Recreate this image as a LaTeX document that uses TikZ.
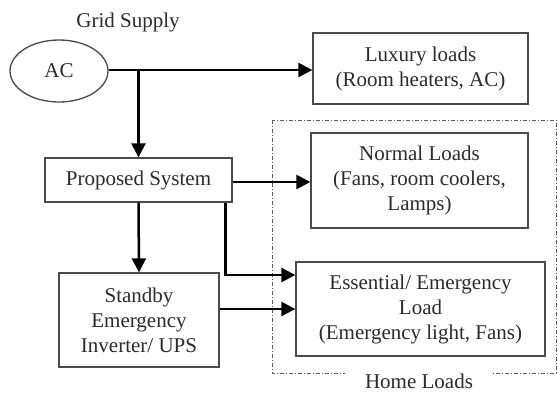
\documentclass[tikz,border=0pt]{standalone}
\usepackage{fontspec}
\setmainfont{Liberation Serif}
\usepackage{tikz}
\usetikzlibrary{arrows.meta,positioning,calc,shapes.geometric}
\usepackage{xcolor}
\definecolor{frame}  {HTML}{4A4A4A}
\definecolor{ink}    {HTML}{2B2B2B}
\definecolor{dashgr} {HTML}{5A5A5A}

\tikzset{
  loadbox/.style={draw=frame, line width=1.3pt, align=center, text=ink,
    inner sep=0pt, font=\fontsize{21}{25}\selectfont},
  feed/.style={line width=2.5pt, -{Triangle[length=14pt,width=14pt]}}
}

\begin{document}
\begin{tikzpicture}[x=1pt,y=-1pt]
        \useasboundingbox (0,0) rectangle (558,392);
        % supply side
        \node[text=ink, font=\fontsize{21}{25}\selectfont] (grid) at (128,22) {Grid Supply};
        \node[loadbox, ellipse, minimum width=98pt, minimum height=62pt] (ac) at (59,71) {AC};
        \node[loadbox, minimum width=187pt, minimum height=44pt] (proposed) at (138.5,180) {Proposed System};
        \node[loadbox, minimum width=160pt, minimum height=94pt] (standby) at (139,320)
          {Standby\\Emergency\\Inverter/ UPS};
        % loads
        \node[loadbox, minimum width=215pt, minimum height=71pt] (luxury) at (420.5,68.5)
          {Luxury loads\\(Room heaters, AC)};
        \node[loadbox, minimum width=217pt, minimum height=95pt] (normal) at (419.5,180.5)
          {Normal Loads\\(Fans, room coolers,\\Lamps)};
        \node[loadbox, minimum width=249pt, minimum height=94pt] (essential) at (420.5,309)
          {Essential/ Emergency\\Load\\(Emergency light, Fans)};
        % home loads frame
        \draw[dashgr, line width=1pt, dash pattern=on 4pt off 2pt on 1pt off 2pt]
          (272,120) rectangle (556,373);
        \node[fill=white, text=ink, inner xsep=20pt, inner ysep=2pt, text depth=0pt,
          anchor=base, font=\fontsize{21}{25}\selectfont] (home) at (419,388) {Home Loads};
        % connectors
        \draw[feed] (ac.east |- 0,70) -- (luxury.west |- 0,70);
        \draw[feed] (proposed.north |- 0,70) -- (proposed.north);
        \draw[feed] (proposed.east |- 0,182) -- (normal.west |- 0,182);
        \draw[feed] ([xshift=-7pt]proposed.south east) |- ([yshift=34pt]essential.west);
        \draw[feed] (proposed.south) -- (standby.north);
        \draw[feed] (standby.east |- essential.west) -- (essential.west);
      \end{tikzpicture}
\end{document}
